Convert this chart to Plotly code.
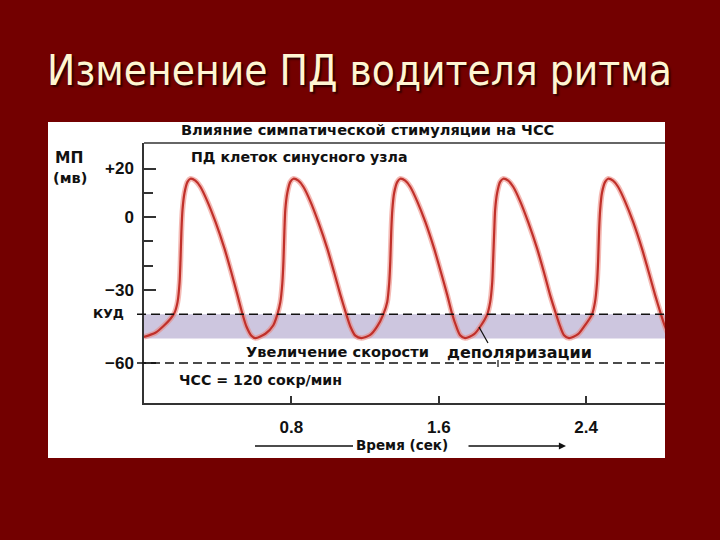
import plotly.graph_objects as go

# ---------------- data ----------------
time_s = [
    0.000, 0.062, 0.106, 0.144, 0.165, 0.182, 0.193, 0.198, 0.203, 0.209, 0.220, 0.236,
    0.252, 0.279, 0.306, 0.344, 0.388, 0.437, 0.475, 0.507, 0.535, 0.556, 0.583, 0.605,
    0.659, 0.702, 0.724, 0.740, 0.751, 0.757, 0.762, 0.767, 0.778, 0.794,
    0.811, 0.838, 0.865, 0.903, 0.946, 0.995, 1.033, 1.066, 1.098, 1.120, 1.147, 1.180,
    1.228, 1.266, 1.299, 1.320, 1.331, 1.337, 1.342, 1.348, 1.358, 1.375,
    1.391, 1.418, 1.445, 1.483, 1.527, 1.575, 1.613, 1.646, 1.673, 1.695, 1.716, 1.743,
    1.792, 1.830, 1.863, 1.879, 1.890, 1.895, 1.901, 1.906, 1.917, 1.933,
    1.950, 1.977, 2.004, 2.042, 2.085, 2.134, 2.172, 2.204, 2.237, 2.259, 2.280, 2.307,
    2.356, 2.394, 2.432, 2.448, 2.459, 2.465, 2.470, 2.476, 2.486, 2.503,
    2.519, 2.546, 2.573, 2.611, 2.655, 2.703, 2.741, 2.774, 2.806, 2.828, 2.844,
]
mp_mv = [
    -49.3, -47.6, -44.8, -41.8, -39.5, -35.0, -27.0, -18.0, -6.0, 3.0, 10.0, 14.5,
    15.8, 15.0, 12.5, 6.5, -2.0, -13.0, -23.0, -32.0, -40.0, -45.0, -48.8, -49.8,
    -48.0, -44.5, -40.0, -35.0, -27.0, -18.0, -6.0, 3.0, 10.0, 14.5,
    15.8, 15.0, 12.5, 6.5, -2.0, -13.0, -23.0, -32.0, -40.0, -45.0, -48.8, -49.8,
    -48.5, -45.0, -40.0, -35.0, -27.0, -18.0, -6.0, 3.0, 10.0, 14.5,
    15.8, 15.0, 12.5, 6.5, -2.0, -13.0, -23.0, -32.0, -40.0, -45.0, -48.6, -49.8,
    -48.2, -44.5, -40.0, -35.0, -27.0, -18.0, -6.0, 3.0, 10.0, 14.5,
    15.8, 15.0, 12.5, 6.5, -2.0, -13.0, -23.0, -32.0, -40.0, -45.0, -48.6, -49.8,
    -48.2, -44.5, -40.0, -35.0, -27.0, -18.0, -6.0, 3.0, 10.0, 14.5,
    15.8, 15.0, 12.5, 6.5, -2.0, -13.0, -23.0, -32.0, -40.0, -45.0, -48.0,
]

y_major_vals = [20, 0, -30, -60]
y_major_text = ["+20", "0", "\u221230", "\u221260"]
y_minor_vals = [10, -10, -20]
x_tick_vals = [0.8, 1.6, 2.4]
x_tick_text = ["0.8", "1.6", "2.4"]
kud_mv = -40
band_low_mv = -50
ref_line_mv = -60
x_range = [0, 2.828]
y_range = [-76.5, 30.5]

title_text = "Изменение ПД водителя ритма"
top_text = "Влияние симпатической стимуляции на ЧСС"
sub_text = "ПД клеток синусного узла"
ylab1 = "МП"
ylab2 = "(мв)"
kud_text = "КУД"
inc_text = "Увеличение скорости"
dep_text = "деполяризации"
hr_text = "ЧСС = 120 сокр/мин"
time_text = "Время (сек)"

# ---------------- layout helpers (pixel -> paper) ----------------
W, H = 720, 540
def px(x):
    return x / W
def py(y):
    return 1 - y / H

BG = "#730000"
AX = "#333333"
BOLD = "DejaVu Sans"

fig = go.Figure()

# curve halo + core
fig.add_trace(go.Scatter(x=time_s, y=mp_mv, mode="lines",
                         line=dict(color="rgba(235,130,120,0.55)", width=5.5, shape="spline", smoothing=0.7),
                         hoverinfo="skip", showlegend=False, cliponaxis=True))
fig.add_trace(go.Scatter(x=time_s, y=mp_mv, mode="lines",
                         line=dict(color="#C0302A", width=2.2, shape="spline", smoothing=0.7),
                         showlegend=False, cliponaxis=True))

shapes = [
    # white panel
    dict(type="rect", xref="paper", yref="paper", x0=px(48), x1=px(665), y0=py(458), y1=py(122),
         fillcolor="white", line=dict(width=0), layer="below"),
    # shaded band between -50 and -40
    dict(type="rect", xref="x", yref="y", x0=x_range[0], x1=x_range[1], y0=band_low_mv, y1=kud_mv,
         fillcolor="#CDC6DF", line=dict(width=0), layer="below"),
    # top border
    dict(type="line", xref="paper", yref="paper", x0=px(144), x1=px(665), y0=py(143), y1=py(143),
         line=dict(color=AX, width=1.5)),
    # dashed threshold lines
    dict(type="line", xref="paper", yref="y", x0=px(137), x1=px(665), y0=kud_mv, y1=kud_mv,
         line=dict(color="#111111", width=1.5, dash="9px,5px")),
    dict(type="line", xref="paper", yref="y", x0=px(137), x1=px(665), y0=ref_line_mv, y1=ref_line_mv,
         line=dict(color="#111111", width=1.5, dash="9px,5px")),
    # leader line of "деполяризации"
    dict(type="line", xref="paper", yref="paper", x0=px(479), x1=px(488), y0=py(327), y1=py(343),
         line=dict(color="#111111", width=1.2)),
    dict(type="line", xref="paper", yref="paper", x0=px(498), x1=px(498), y0=py(360), y1=py(367),
         line=dict(color="#111111", width=1.2)),
    # time axis left line
    dict(type="line", xref="paper", yref="paper", x0=px(255), x1=px(353), y0=py(446), y1=py(446),
         line=dict(color="#111111", width=1.3)),
]

def ann(text, x, y, size, family=BOLD, bold=True, color="#111111", xanchor="left"):
    return dict(text=("<b>%s</b>" % text) if bold else text, x=px(x), y=py(y),
                xref="paper", yref="paper", showarrow=False, xanchor=xanchor, yanchor="middle",
                font=dict(family=family, size=size, color=color), borderpad=0)

annotations = [
    dict(text=title_text, x=px(359), y=py(70), xref="paper", yref="paper", showarrow=False,
         xanchor="center", yanchor="middle",
         font=dict(family="DejaVu Sans Condensed, DejaVu Sans", size=42, color="#FFF6D2",
                   shadow="2px 2px 2px #2a0000")),
    ann(top_text, 180, 130, 14.6),
    ann(sub_text, 190, 157, 14.2),
    ann(ylab1, 54, 158, 15.5),
    ann(ylab2, 52, 178, 14.5),
    ann(kud_text, 92, 313, 12.5),
    ann(inc_text, 245, 351, 14.6),
    ann(dep_text, 446, 352, 16),
    ann(hr_text, 178, 380, 14.2),
    ann(time_text, 355, 445, 13.5),
    # arrow to the right of time label
    dict(text="", x=px(566), y=py(446), xref="paper", yref="paper", showarrow=True,
         ax=-99, ay=0, axref="pixel", ayref="pixel", arrowhead=2, arrowsize=1.1, arrowwidth=1.3,
         arrowcolor="#111111"),
]

fig.update_layout(
    width=W, height=H, autosize=False,
    margin=dict(l=0, r=0, t=0, b=0),
    paper_bgcolor=BG, plot_bgcolor="white",
    shapes=shapes, annotations=annotations,
    xaxis=dict(domain=[px(144), px(665)], range=x_range, showgrid=False, zeroline=False,
               showline=True, linecolor=AX, linewidth=1.5,
               tickmode="array", tickvals=x_tick_vals, ticktext=x_tick_text,
               ticks="inside", ticklen=7, tickwidth=1.5, tickcolor=AX, ticklabelstandoff=8,
               tickfont=dict(family="Liberation Sans, Arial", size=17, color="#111111", weight="bold")),
    yaxis=dict(domain=[py(403), py(143)], range=y_range, showgrid=False, zeroline=False,
               showline=True, linecolor=AX, linewidth=1.5,
               tickmode="array", tickvals=y_major_vals, ticktext=y_major_text,
               ticks="inside", ticklen=12, tickwidth=1.5, tickcolor=AX, ticklabelstandoff=5,
               tickfont=dict(family="Liberation Sans, Arial", size=17, color="#111111", weight="bold"),
               minor=dict(tickmode="array", tickvals=y_minor_vals, ticks="inside", ticklen=9,
                          tickwidth=1.5, tickcolor=AX, showgrid=False)),
)

fig.write_html("out.html", config={"displayModeBar": False},
               post_script="document.body.style.margin='0px';document.body.style.background='%s';"
                           "document.documentElement.style.background='%s';" % (BG, BG))
